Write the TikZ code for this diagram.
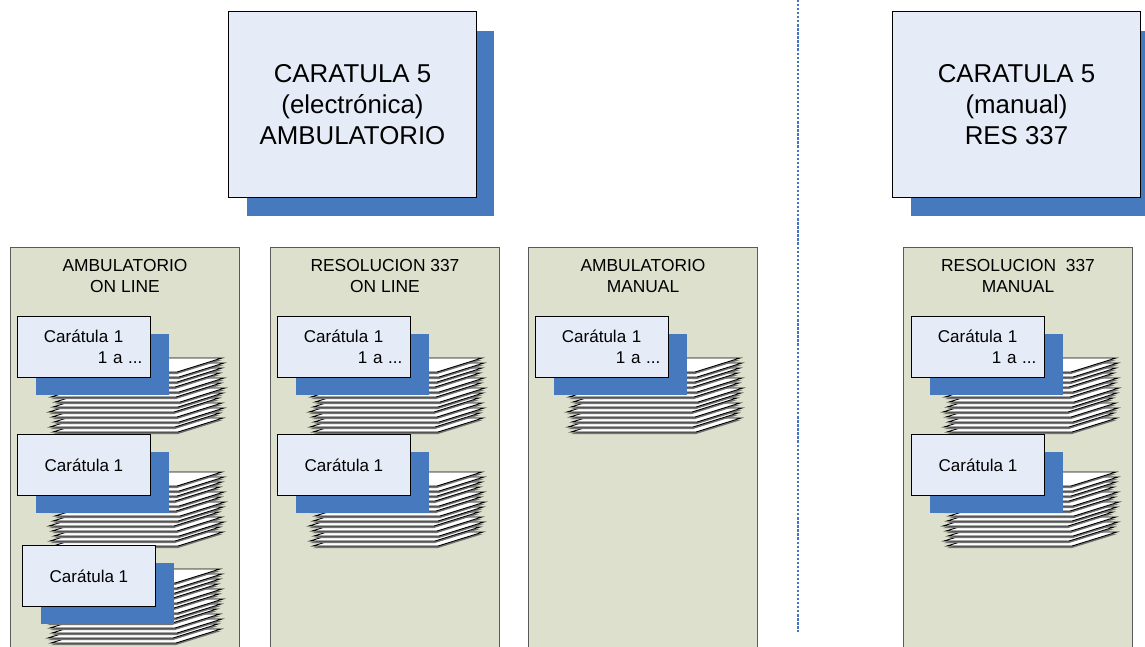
\documentclass[tikz,border=0pt]{standalone}
\usepackage{fontspec}
\setmainfont{Liberation Sans}
\usepackage{tikz}
\usetikzlibrary{positioning,shadows,calc}
\usepackage{xcolor}

\definecolor{fondoazul}{RGB}{230,236,247}
\definecolor{azulsombra}{RGB}{71,121,191}
\definecolor{verdecol}{RGB}{221,224,204}
\definecolor{bordecol}{RGB}{90,90,90}
\definecolor{punteado}{RGB}{68,114,196}

\tikzset{
  caratula/.style={draw=black, line width=0.6pt, fill=fondoazul, minimum width=4.96cm, minimum height=3.72cm, anchor=north west, align=center, inner sep=0pt, font=\fontsize{14.7}{17.6}\selectfont, drop shadow={shadow xshift=0.36cm, shadow yshift=-0.38cm, fill=azulsombra, opacity=1}},
  columna/.style={draw=bordecol, line width=0.6pt, fill=verdecol, minimum width=4.58cm, minimum height=8.26cm, anchor=north west},
  cabecera/.style={align=center, inner sep=0pt, anchor=north, font=\fontsize{9.9}{11.9}\selectfont},
  tarjeta/.style={draw=black, line width=0.5pt, fill=fondoazul, minimum width=2.66cm, minimum height=1.22cm, anchor=north west, inner xsep=0.16cm, font=\fontsize{9.7}{11.9}\selectfont, drop shadow={shadow xshift=0.38cm, shadow yshift=-0.36cm, fill=azulsombra, opacity=1}},
  tarjetados/.style={tarjeta, align=right, text width=2.34cm},
  hoja/.style={fill=white, draw=black, line width=0.5pt},
  canto/.style={fill=black!55},
  separador/.style={draw=punteado, line width=1.6pt, dash pattern=on 1.3pt off 1pt},
}

% pila de hojas
\newcommand{\pila}[2]{%
  \begin{scope}[shift={(#1,#2)}]
    \foreach \i/\dx in {12/1,11/-2,10/2,9/0,8/-3,7/1,6/3,5/-1,4/2,3/-2,2/0,1/2,0/0}{
      \fill[canto] ({\dx},{16+5*\i}) -- ({\dx+125},{16+5*\i}) -- ({\dx+170},{2+5*\i}) -- ({\dx+45},{2+5*\i}) -- cycle;
      \filldraw[hoja] ({\dx},{14+5*\i}) -- ({\dx+125},{14+5*\i}) -- ({\dx+170},{5*\i}) -- ({\dx+45},{5*\i}) -- cycle;
    }
  \end{scope}}

\begin{document}
\begin{tikzpicture}[x=0.02cm, y=-0.02cm]

\useasboundingbox (0,0) rectangle (1145,646);
\clip (0,0) rectangle (1145,646);

% caratulas 5
\node[caratula] (car5e) at (228,11) {CARATULA 5\\(electrónica)\\AMBULATORIO};
\node[caratula] (car5m) at (892,11) {CARATULA 5\\(manual)\\RES 337};

% separador
\coordinate (sepA) at (798,0);
\coordinate (sepB) at (798,632);
\draw[separador] (sepA) -- (sepB);

% columnas
\node[columna] (col1) at (10,247) {};
\node[columna] (col2) at (270,247) {};
\node[columna] (col3) at (528,247) {};
\node[columna] (col4) at (903,247) {};

\node[cabecera, below=0.24cm of col1.north] (cab1) {AMBULATORIO\\ON LINE};
\node[cabecera, below=0.24cm of col2.north] (cab2) {RESOLUCION 337\\ON LINE};
\node[cabecera, below=0.24cm of col3.north] (cab3) {AMBULATORIO\\MANUAL};
\node[cabecera, below=0.24cm of col4.north] (cab4) {RESOLUCION\ \ 337\\MANUAL};

% pilas
\pila{52}{358}
\pila{52}{472}
\pila{50}{569}
\pila{312}{358}
\pila{312}{472}
\pila{570}{358}
\pila{946}{358}
\pila{946}{472}

% caratulas 1
\node[tarjetados] (c11) at (17,316) {Carátula 1\hspace*{0.38cm}\mbox{}\\1 a ...};
\node[tarjeta] (c12) at (17,434) {Carátula 1};
\node[tarjeta] (c13) at (22,545) {Carátula 1};
\node[tarjetados] (c21) at (277,316) {Carátula 1\hspace*{0.38cm}\mbox{}\\1 a ...};
\node[tarjeta] (c22) at (277,434) {Carátula 1};
\node[tarjetados] (c31) at (535,316) {Carátula 1\hspace*{0.38cm}\mbox{}\\1 a ...};
\node[tarjetados] (c41) at (911,316) {Carátula 1\hspace*{0.38cm}\mbox{}\\1 a ...};
\node[tarjeta] (c42) at (911,434) {Carátula 1};

\end{tikzpicture}
\end{document}
